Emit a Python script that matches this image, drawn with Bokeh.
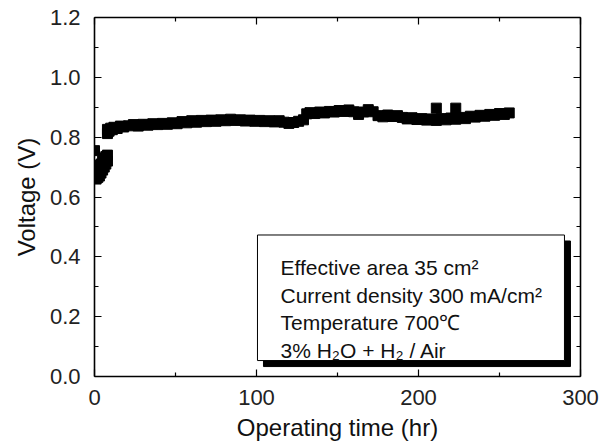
from bokeh.plotting import figure
from bokeh.models import Range1d, LinearAxis, BoxAnnotation, Label, FixedTicker, CustomJSTickFormatter, PrintfTickFormatter, Title
from bokeh.embed import file_html
from bokeh.resources import INLINE

# ---------------- data ----------------
time_hr = [
    0,
    1, 1, 1, 2, 2, 3, 3, 4, 4, 5, 5, 6, 6, 7, 7, 8, 8,
    8, 8, 9, 10, 11, 12, 14, 16, 18,
    21, 24, 27, 30, 33, 36, 39, 42, 45, 48, 51, 54, 57, 60, 63, 66, 69, 72, 75, 78,
    81, 84, 87, 90, 93, 96, 99, 102, 105, 108, 111, 114, 117, 120, 123, 126, 129,
    131, 133, 136, 139, 142, 145, 148, 151, 154, 157, 160, 163, 166, 169, 172,
    175, 178, 181, 184, 187, 190, 193, 196, 199, 202, 205, 208, 211, 214, 217,
    220, 223, 226, 229, 232, 235, 238, 241, 244, 247, 250, 253, 256,
    211, 223,
]
voltage_v = [
    0.755,
    0.66, 0.685, 0.705, 0.665, 0.70, 0.67, 0.70, 0.68, 0.71, 0.69, 0.72, 0.70, 0.73, 0.71, 0.735, 0.72, 0.74,
    0.812, 0.826, 0.82, 0.83, 0.825, 0.833, 0.829, 0.837, 0.834,
    0.838, 0.842, 0.837, 0.843, 0.840, 0.845, 0.842, 0.846, 0.843, 0.848, 0.845, 0.852, 0.848, 0.855, 0.850, 0.856, 0.852, 0.857, 0.853, 0.858,
    0.855, 0.860, 0.856, 0.858, 0.854, 0.857, 0.853, 0.856, 0.852, 0.855, 0.851, 0.855, 0.850, 0.846, 0.849, 0.853, 0.858,
    0.878, 0.882, 0.879, 0.884, 0.881, 0.886, 0.884, 0.889, 0.886, 0.891, 0.885, 0.876, 0.884, 0.892, 0.885,
    0.872, 0.868, 0.874, 0.869, 0.872, 0.866, 0.861, 0.865, 0.859, 0.862, 0.857, 0.861, 0.856, 0.862, 0.858,
    0.864, 0.860, 0.866, 0.862, 0.870, 0.867, 0.873, 0.870, 0.876, 0.873, 0.879, 0.876, 0.881,
    0.897, 0.897,
]

x_ticks = [0, 100, 200, 300]
y_ticks = [0.0, 0.2, 0.4, 0.6, 0.8, 1.0, 1.2]
x_title = "Operating time (hr)"
y_title = "Voltage (V)"
info_lines = [
    "Effective area  35 cm\u00b2",
    "Current density 300 mA/cm\u00b2",
    "Temperature 700\u2103",
    "3% H\u2082O + H\u2082 / Air",
]

FONT = "Liberation Sans"

p = figure(width=611, height=448, output_backend="svg", toolbar_location=None,
           x_range=Range1d(0, 300), y_range=Range1d(0, 1.2),
           min_border_left=94, min_border_right=31, min_border_top=17, min_border_bottom=72)
p.outline_line_color = None
p.xgrid.visible = False
p.ygrid.visible = False
p.background_fill_color = "white"
p.border_fill_color = "white"

def style_axis(ax):
    ax.axis_line_color = "black"
    ax.axis_line_width = 1.6
    ax.major_tick_in = 7
    ax.major_tick_out = 0
    ax.minor_tick_in = 4
    ax.minor_tick_out = 0
    ax.major_tick_line_color = "black"
    ax.minor_tick_line_color = "black"
    ax.major_tick_line_width = 1.2
    ax.minor_tick_line_width = 1.2
    ax.major_label_text_font = FONT
    ax.major_label_text_font_size = "22px"
    ax.major_label_text_color = "#222222"

xt = FixedTicker(ticks=x_ticks, minor_ticks=[50, 150, 250])
yt = FixedTicker(ticks=y_ticks, minor_ticks=[0.1, 0.3, 0.5, 0.7, 0.9, 1.1])

xa = p.xaxis[0]
xa.ticker = xt
style_axis(xa)
xa.major_label_standoff = 13
xa.axis_label = x_title
xa.axis_label_text_font = FONT
xa.axis_label_text_font_size = "24px"
xa.axis_label_text_font_style = "normal"
xa.axis_label_text_color = "#111111"
xa.axis_label_standoff = 6

ya = p.yaxis[0]
ya.ticker = yt
ya.formatter = PrintfTickFormatter(format="%.1f")
style_axis(ya)
ya.major_label_standoff = 14

# y title as a left-side title so it can be shifted down like the reference
p.add_layout(Title(text=y_title, align="center", offset=-16, standoff=14,
                   text_font=FONT, text_font_size="24px", text_font_style="normal",
                   text_color="#111111"), "left")

blank = CustomJSTickFormatter(code="return ''")
top_ax = LinearAxis(ticker=xt, formatter=blank)
style_axis(top_ax)
top_ax.major_label_text_font_size = "0px"
top_ax.major_label_standoff = 0
p.add_layout(top_ax, "above")
right_ax = LinearAxis(ticker=yt, formatter=blank)
style_axis(right_ax)
right_ax.major_label_text_font_size = "0px"
right_ax.major_label_standoff = 0
p.add_layout(right_ax, "right")

p.scatter(time_hr, voltage_v, marker="square", size=10, fill_color="black", line_color="black")

# info box with shadow
px_x = 300 / 486.0
px_y = 1.2 / 359.0
bx_l, bx_r, bx_t, bx_b = 100.6, 290.1, 0.473, 0.0533
p.add_layout(BoxAnnotation(left=bx_l + 6 * px_x, right=bx_r + 6 * px_x, top=bx_t - 6 * px_y,
                           bottom=bx_b - 6 * px_y, fill_color="black", fill_alpha=1,
                           line_color="black", line_alpha=1, level="overlay"))
p.add_layout(BoxAnnotation(left=bx_l, right=bx_r, top=bx_t, bottom=bx_b, fill_color="white",
                           fill_alpha=1, line_color="black", line_width=1, line_alpha=1,
                           level="overlay"))
for txt, yy in zip(info_lines, [0.363, 0.27, 0.181, 0.0867]):
    p.add_layout(Label(x=114.8, y=yy, text=txt, text_font=FONT, text_font_size="21px",
                       text_color="#111111", text_baseline="alphabetic", text_align="left",
                       level="overlay"))

open("out.html", "w").write(file_html(p, INLINE))
